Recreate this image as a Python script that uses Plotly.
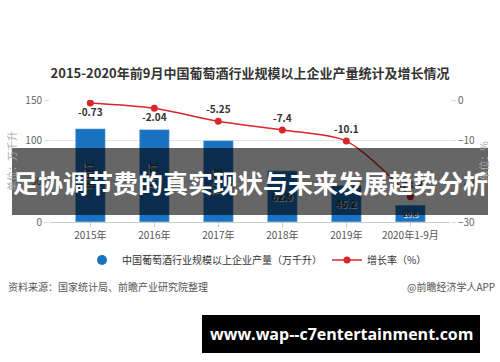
import plotly.graph_objects as go

categories = ["2015年", "2016年", "2017年", "2018年", "2019年", "2020年1-9月"]
output_values = [114.8, 113.7, 100.1, 62.9, 45.2, 20.8]
growth_values = [-0.73, -2.04, -5.25, -7.4, -10.1, -23.8]
growth_labels = ["-0.73", "-2.04", "-5.25", "-7.4", "-10.1", "-23.8"]
label_positions = ["bottom center", "bottom center", "top center", "top center", "top center", "top center"]

title_text = "2015-2020年前9月中国葡萄酒行业规模以上企业产量统计及增长情况"
bar_name = "中国葡萄酒行业规模以上企业产量（万千升）"
line_name = "增长率（%）"
banner_text = "足协调节费的真实现状与未来发展趋势分析"
site_text = "www.wap--c7entertainment.com"

CJK = "Noto Sans CJK SC"
BLUE = "#1a72c2"
RED = "#d9262c"

# plot area in pixels
PL, PR, PT, PB = 50, 450, 100, 222


def px(x):
    return (x - PL) / (PR - PL)


def py(y):
    return (PB - y) / (PB - PT)


fig = go.Figure()
fig.add_trace(go.Bar(
    x=categories, y=output_values, marker_color=BLUE, width=0.47,
    text=[f"{v}" for v in output_values], textposition="inside",
    insidetextanchor="middle",
    textfont=dict(family=CJK, size=10, color="#333", weight="bold", shadow="1px 1px 1px #fff"),
    showlegend=False, yaxis="y",
))
fig.add_trace(go.Scatter(
    x=[None], y=[None], mode="markers", name=bar_name,
    marker=dict(color=BLUE, size=10, symbol="circle"), yaxis="y",
))
fig.add_trace(go.Scatter(
    x=categories, y=growth_values, mode="lines+markers+text", name=line_name,
    line=dict(color=RED, width=1.5, shape="spline", smoothing=0.8),
    marker=dict(color=RED, size=7),
    text=growth_labels, textposition=label_positions,
    textfont=dict(family=CJK, size=10, color="#333", weight="bold"),
    yaxis="y2",
))

fig.update_layout(
    width=500, height=362,
    margin=dict(l=PL, r=500 - PR, t=PT, b=362 - PB, autoexpand=False),
    paper_bgcolor="white", plot_bgcolor="white",
    font=dict(family=CJK, color="#555", size=10),
    title=dict(text=title_text, x=0.5, xanchor="center", y=1 - 73 / 362, yanchor="middle",
               font=dict(family=CJK, size=13, color="#333", weight="bold")),
    xaxis=dict(type="category", range=[-0.63, 5.62], showgrid=False, automargin=False,
               showline=True, linecolor="#ccc", ticks="outside", ticklen=4, tickcolor="#ccc",
               tickfont=dict(size=10, color="#555")),
    yaxis=dict(range=[0, 150], dtick=50, showgrid=True, gridcolor="#e3e3e3", zeroline=False,
               automargin=False, ticks="outside", ticklen=5, tickcolor="#ddd",
               tickfont=dict(size=10, color="#666"),
               title=dict(text="单位：万千升", font=dict(size=10, color="#aaa"), standoff=6)),
    yaxis2=dict(range=[-30, 0], dtick=10, overlaying="y", side="right", showgrid=False,
                automargin=False, zeroline=False, ticks="outside", ticklen=5, tickcolor="#ddd",
                tickfont=dict(size=10, color="#666"),
                title=dict(text="单位：%", font=dict(size=10, color="#aaa"), standoff=6)),
    legend=dict(orientation="h", x=px(257), xanchor="center", y=py(260), yanchor="middle",
                font=dict(size=10, color="#333"), itemwidth=30),
    bargap=0.5,
)

shapes = [
    dict(type="rect", xref="paper", yref="paper", x0=px(12), x1=px(488), y0=py(148), y1=py(215),
         fillcolor="rgba(0,0,0,0.6)", line=dict(width=0), layer="above"),
    dict(type="rect", xref="paper", yref="paper", x0=px(202), x1=px(480), y0=py(315), y1=py(353),
         fillcolor="black", line=dict(width=0), layer="above"),
]
fig.update_layout(shapes=shapes)

annotations = [
    dict(text=banner_text, xref="paper", yref="paper", x=px(250), y=py(182), showarrow=False,
         font=dict(family=CJK, size=25, color="white", weight="bold"), xanchor="center", yanchor="middle"),
    dict(text=site_text, xref="paper", yref="paper", x=px(341), y=py(334), showarrow=False,
         font=dict(family="Open Sans", size=16, color="white", weight="bold"), xanchor="center", yanchor="middle"),
    dict(text="资料来源：国家统计局、前瞻产业研究院整理", xref="paper", yref="paper", x=px(6), y=py(286),
         showarrow=False, font=dict(size=10, color="#555"), xanchor="left", yanchor="middle"),
    dict(text="@前瞻经济学人APP", xref="paper", yref="paper", x=px(497), y=py(286),
         showarrow=False, font=dict(size=10, color="#555"), xanchor="right", yanchor="middle"),
]
fig.update_layout(annotations=annotations)

fig.write_html("out.html", config={"displayModeBar": False},
               post_script="document.body.style.margin='0';document.body.style.overflow='hidden';")
